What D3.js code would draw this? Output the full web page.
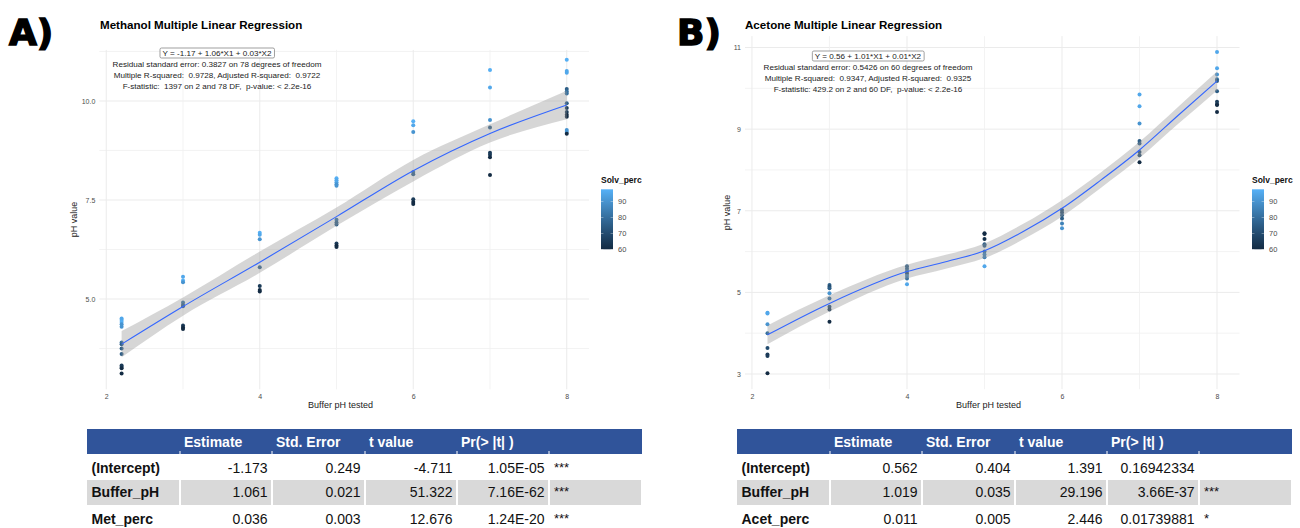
<!DOCTYPE html>
<html>
<head>
<meta charset="utf-8">
<script src="https://d3js.org/d3.v7.min.js"></script>
<style>
  body { margin: 0; background: #fff; }
  text { font-family: "Liberation Sans", Arial, Helvetica, sans-serif; }
</style>
</head>
<body>
<div id="chart"></div>
<script>
// ---- data ----
// Methanol panel (A)
const metBuffer = [2.2,2.2,2.2,2.2,2.2,2.2,2.2,2.2,2.2,2.2,2.2,2.2,2.2,
  3,3,3,3,3,3,3,3,3,
  4,4,4,4,4,4,4,
  5,5,5,5,5,5,5,5,5,5,5,
  6,6,6,6,6,6,6,6,
  7,7,7,7,7,7,7,7,
  8,8,8,8,8,8,8,8,8,8,8,8,8,8];
const metPH = [4.51,4.47,4.42,4.36,4.30,3.90,3.86,3.75,3.61,3.32,3.28,3.25,3.12,
  5.56,5.47,5.42,4.91,4.85,4.82,4.33,4.28,4.24,
  6.67,6.62,6.51,5.80,5.33,5.23,5.19,
  8.05,8.00,7.95,7.90,7.86,7.00,6.93,6.88,6.40,6.35,6.31,
  9.49,9.39,9.22,8.21,8.15,7.52,7.45,7.40,
  10.78,10.34,9.52,9.33,8.69,8.64,8.58,8.13,
  11.04,10.76,10.71,10.30,10.24,10.19,9.94,9.82,9.72,9.65,9.60,9.27,9.22,9.17];
const metPerc = [95,95,97,90,90,80,75,75,75,65,65,60,60,
  95,97,90,80,75,75,65,60,60,
  97,95,90,75,65,60,60,
  97,95,95,90,90,80,75,75,65,60,60,
  97,95,90,80,75,65,60,60,
  97,95,90,75,65,65,60,60,
  97,95,95,75,80,80,75,65,65,60,60,90,90,60];
const metSmoothX = [2.2, 3, 4, 5, 6, 7, 8];
const metSmoothY = [3.86, 4.81, 5.93, 7.08, 8.24, 9.18, 9.90];
const metSmoothSE = [0.33, 0.23, 0.27, 0.23, 0.27, 0.23, 0.36];
const metNote = ["Y = -1.17 + 1.06*X1 + 0.03*X2",
  "Residual standard error: 0.3827 on 78 degrees of freedom",
  "Multiple R-squared:  0.9728, Adjusted R-squared:  0.9722",
  "F-statistic:  1397 on 2 and 78 DF,  p-value: < 2.2e-16"];

// Acetone panel (B)
const acetBuffer = [2.2,2.2,2.2,2.2,2.2,2.2,2.2,2.2,
  3,3,3,3,3,3,3,3,
  4,4,4,4,4,4,4,
  5,5,5,5,5,5,5,5,5,
  6,6,6,6,6,6,
  7,7,7,7,7,7,7,7,
  8,8,8,8,8,8,8,8,8,8];
const acetPH = [4.50,4.48,4.22,4.00,3.64,3.48,3.44,3.02,
  5.18,5.14,5.10,4.98,4.85,4.65,4.58,4.28,
  5.64,5.58,5.52,5.46,5.40,5.34,5.20,
  6.45,6.43,6.31,6.18,6.14,6.00,5.93,5.86,5.64,
  7.02,6.96,6.89,6.81,6.69,6.57,
  9.85,9.56,9.14,8.71,8.65,8.44,8.36,8.19,
  10.89,10.49,10.34,10.22,10.18,9.93,9.67,9.61,9.59,9.42];
const acetPerc = [95,95,90,80,70,65,65,60,
  75,70,75,90,80,70,65,60,
  75,75,80,70,85,80,95,
  60,60,62,75,75,80,85,85,95,
  70,70,75,75,85,90,
  95,95,90,75,75,70,70,60,
  95,95,90,80,75,75,65,65,60,60];
const acetSmoothX = [2.2, 3, 4, 4.5, 5, 5.5, 6, 6.5, 7, 7.5, 8];
const acetSmoothY = [3.96, 4.73, 5.51, 5.75, 6.02, 6.49, 7.06, 7.75, 8.49, 9.34, 10.18];
const acetSmoothSE = [0.23, 0.2, 0.17, 0.17, 0.18, 0.19, 0.2, 0.19, 0.2, 0.21, 0.23];
const acetNote = ["Y = 0.56 + 1.01*X1 + 0.01*X2",
  "Residual standard error: 0.5426 on 60 degrees of freedom",
  "Multiple R-squared:  0.9347, Adjusted R-squared:  0.9325",
  "F-statistic: 429.2 on 2 and 60 DF,  p-value: < 2.2e-16"];

// axis ticks and legend
const xTicks = [2, 4, 6, 8];
const metYTicks = [5.0, 7.5, 10.0];
const acetYTicks = [3, 5, 7, 9, 11];
const legendTicks = [60, 70, 80, 90];

// coefficient tables
const colHeaders = ["Estimate", "Std. Error", "t value", "Pr(> |t| )"];
const metRows = ["(Intercept)", "Buffer_pH", "Met_perc"];
const metEstimate = ["-1.173", "1.061", "0.036"];
const metStdErr = ["0.249", "0.021", "0.003"];
const metTValue = ["-4.711", "51.322", "12.676"];
const metPr = ["1.05E-05", "7.16E-62", "1.24E-20"];
const metSig = ["***", "***", "***"];
const acetRows = ["(Intercept)", "Buffer_pH", "Acet_perc"];
const acetEstimate = ["0.562", "1.019", "0.011"];
const acetStdErr = ["0.404", "0.035", "0.005"];
const acetTValue = ["1.391", "29.196", "2.446"];
const acetPr = ["0.16942334", "3.66E-37", "0.01739881"];
const acetSig = ["", "***", "*"];

// ---- drawing ----
const svg = d3.select("#chart").append("svg")
  .attr("width", 1300).attr("height", 528);
svg.append("rect").attr("width", 1300).attr("height", 528).attr("fill", "#fff");

const color = d3.scaleLinear().domain([60, 97.5])
  .range(["#132B43", "#56B1F7"]).interpolate(d3.interpolateLab);

const defs = svg.append("defs");
const grad = defs.append("linearGradient").attr("id", "solvGrad")
  .attr("x1", 0).attr("y1", 1).attr("x2", 0).attr("y2", 0);
d3.range(0, 1.0001, 0.1).forEach(t => {
  grad.append("stop").attr("offset", t).attr("stop-color", color(60 + t * 37.5));
});

function drawPanel(p) {
  const g = svg.append("g");
  const x = d3.scaleLinear().domain([1.71, 8.29]).range(p.xRange);
  const y = d3.scaleLinear().domain(p.yDomain).range(p.yRange);
  const left = x(1.91);

  // grid
  const minorX = [3, 5, 7];
  const grid = g.append("g");
  grid.selectAll(".hmin").data(p.yMinor).enter().append("line")
    .attr("x1", left).attr("x2", p.xRange[1])
    .attr("y1", d => y(d)).attr("y2", d => y(d))
    .attr("stroke", "#f0f0f0").attr("stroke-width", 0.8);
  grid.selectAll(".hmaj").data(p.yTicks).enter().append("line")
    .attr("x1", left).attr("x2", p.xRange[1])
    .attr("y1", d => y(d)).attr("y2", d => y(d))
    .attr("stroke", "#ebebeb").attr("stroke-width", 1);
  grid.selectAll(".vmin").data(minorX).enter().append("line")
    .attr("x1", d => x(d)).attr("x2", d => x(d))
    .attr("y1", p.yRange[1]).attr("y2", p.yRange[0])
    .attr("stroke", "#f0f0f0").attr("stroke-width", 0.8);
  grid.selectAll(".vmaj").data(xTicks).enter().append("line")
    .attr("x1", d => x(d)).attr("x2", d => x(d))
    .attr("y1", p.yRange[1]).attr("y2", p.yRange[0])
    .attr("stroke", "#ebebeb").attr("stroke-width", 1);

  // axes (labels only, theme_minimal)
  const xAxis = g.append("g").attr("transform", `translate(0,${p.yRange[0] + 2})`)
    .call(d3.axisBottom(x).tickValues(xTicks).tickSize(0).tickFormat(d3.format("d")));
  const yAxis = g.append("g").attr("transform", `translate(${left - 1},0)`)
    .call(d3.axisLeft(y).tickValues(p.yTicks).tickSize(0).tickFormat(p.yFormat));
  [xAxis, yAxis].forEach(a => {
    a.select(".domain").remove();
    a.selectAll("text").attr("fill", "#4d4d4d").style("font-size", "7px")
      .style("font-family", "Liberation Sans, Arial, sans-serif");
  });

  // points
  const pts = p.xs.map((v, i) => ({x: v, y: p.ys[i], c: p.perc[i]}));
  g.selectAll("circle").data(pts).enter().append("circle")
    .attr("cx", d => x(d.x)).attr("cy", d => y(d.y)).attr("r", 2)
    .attr("fill", d => color(d.c));

  // smoother with confidence band
  const sm = p.sx.map((v, i) => ({x: v, y: p.sy[i], se: p.se[i]}));
  g.append("path").datum(sm)
    .attr("d", d3.area().curve(d3.curveMonotoneX)
      .x(d => x(d.x)).y0(d => y(d.y - d.se)).y1(d => y(d.y + d.se)))
    .attr("fill", "#999999").attr("fill-opacity", 0.4);
  g.append("path").datum(sm)
    .attr("d", d3.line().curve(d3.curveMonotoneX).x(d => x(d.x)).y(d => y(d.y)))
    .attr("fill", "none").attr("stroke", "#3366FF").attr("stroke-width", 1.1);

  // titles
  g.append("text").attr("x", p.titleX).attr("y", 29).text(p.title)
    .style("font-size", "11.6px").style("font-weight", "bold").attr("fill", "#000");
  g.append("text").attr("x", (p.xRange[0] + p.xRange[1]) / 2 + 4).attr("y", 408)
    .attr("text-anchor", "middle").text("Buffer pH tested")
    .style("font-size", "9px").attr("fill", "#222");
  g.append("text").attr("transform", `translate(${p.yLabX},${(p.yRange[0] + p.yRange[1]) / 2}) rotate(-90)`)
    .attr("text-anchor", "middle").text("pH value")
    .style("font-size", "9px").attr("fill", "#222");

  // panel letter
  g.append("text").attr("x", p.letterX).attr("y", 45).text(p.letter)
    .style("font-size", "36px").style("font-weight", "900")
    .style("font-family", "DejaVu Sans, sans-serif")
    .attr("stroke", "#000").attr("stroke-width", 1.5);

  // regression note
  const nb = g.append("g");
  const box = nb.append("text").attr("x", p.noteX).attr("y", p.noteY)
    .attr("text-anchor", "middle").text(p.note[0])
    .style("font-size", "8.1px").style("white-space", "pre").attr("fill", "#222");
  const bb = box.node().getBBox();
  nb.insert("rect", "text").attr("x", bb.x - 2.5).attr("y", bb.y - 0.5)
    .attr("width", bb.width + 5).attr("height", bb.height + 1)
    .attr("rx", 1.5).attr("fill", "#fff").attr("stroke", "#777").attr("stroke-width", 0.7);
  p.note.slice(1).forEach((t, i) => {
    nb.append("text").attr("x", p.noteX).attr("y", p.noteY + 11.3 * (i + 1))
      .attr("text-anchor", "middle").text(t)
      .style("font-size", "8.1px").style("white-space", "pre").attr("fill", "#222");
  });

  // colour legend
  const lg = g.append("g").attr("transform", `translate(${p.legendX},0)`);
  lg.append("text").attr("x", 0).attr("y", 183).text("Solv_perc")
    .style("font-size", "8.5px").style("font-weight", "bold").attr("fill", "#111");
  const ly = d3.scaleLinear().domain([60, 97.5]).range([249.3, 189.3]);
  lg.append("rect").attr("x", 0).attr("y", 189.3).attr("width", 12).attr("height", 60)
    .attr("fill", "url(#solvGrad)");
  lg.selectAll(".lt").data(legendTicks).enter().append("g").each(function (d) {
    const s = d3.select(this);
    s.append("line").attr("x1", 0).attr("x2", 2.4).attr("y1", ly(d)).attr("y2", ly(d))
      .attr("stroke", "#fff").attr("stroke-width", 0.6).attr("opacity", 0.7);
    s.append("line").attr("x1", 9.6).attr("x2", 12).attr("y1", ly(d)).attr("y2", ly(d))
      .attr("stroke", "#fff").attr("stroke-width", 0.6).attr("opacity", 0.7);
    s.append("text").attr("x", 17).attr("y", ly(d) + 2.8).text(d)
      .style("font-size", "7.5px").attr("fill", "#4d4d4d");
  });
}

drawPanel({
  xRange: [84, 589], yDomain: [2.72, 11.29], yRange: [389.3, 49.9],
  yTicks: metYTicks, yMinor: [3.75, 6.25, 8.75, 11.25], yFormat: d3.format(".1f"),
  xs: metBuffer, ys: metPH, perc: metPerc,
  sx: metSmoothX, sy: metSmoothY, se: metSmoothSE,
  title: "Methanol Multiple Linear Regression", titleX: 100, yLabX: 77,
  letter: "A)", letterX: 9, note: metNote, noteX: 217, noteY: 55.5, legendX: 601
});
drawPanel({
  xRange: [729.5, 1239.5], yDomain: [2.63, 11.28], yRange: [389.1, 36.1],
  yTicks: acetYTicks, yMinor: [4, 6, 8, 10], yFormat: d3.format("d"),
  xs: acetBuffer, ys: acetPH, perc: acetPerc,
  sx: acetSmoothX, sy: acetSmoothY, se: acetSmoothSE,
  title: "Acetone Multiple Linear Regression", titleX: 745, yLabX: 730,
  letter: "B)", letterX: 677, note: acetNote, noteX: 868, noteY: 58.5, legendX: 1252
});

// ---- coefficient tables ----
function drawTable(left, rows, cols) {
  const t = svg.append("g").attr("transform", `translate(${left},0)`);
  const edges = [0, 93, 185, 278, 370, 462, 555];
  const x = d3.scaleOrdinal().domain(d3.range(7)).range(edges);
  const rowTop = [454, 480, 505];
  const rowBase = [473, 497, 524];
  t.append("rect").attr("x", 0).attr("y", 429).attr("width", 555).attr("height", 25)
    .attr("fill", "#30549a");
  edges.slice(1, 6).forEach(e => {
    t.append("line").attr("x1", e).attr("x2", e).attr("y1", 451).attr("y2", 454)
      .attr("stroke", "#fff").attr("stroke-width", 1);
  });
  colHeaders.forEach((h, i) => {
    t.append("text").attr("x", x(i + 1) + 4).attr("y", 447).text(h)
      .style("font-size", "14px").style("font-weight", "bold").attr("fill", "#fff");
  });
  // shaded middle row
  d3.range(6).forEach(i => {
    t.append("rect").attr("x", x(i) + (i ? 1 : 0)).attr("y", rowTop[1])
      .attr("width", x(i + 1) - x(i) - (i ? 2 : 1)).attr("height", 25)
      .attr("fill", "#d9d9d9");
  });
  rows.forEach((r, j) => {
    t.append("text").attr("x", 4.5).attr("y", rowBase[j]).text(r)
      .style("font-size", "14px").style("font-weight", "bold").attr("fill", "#111");
    cols.slice(0, 4).forEach((c, i) => {
      t.append("text").attr("x", x(i + 2) - 4.5).attr("y", rowBase[j])
        .attr("text-anchor", "end").text(c[j])
        .style("font-size", "14px").attr("fill", "#111");
    });
    t.append("text").attr("x", x(5) + 5).attr("y", rowBase[j] - 1).text(cols[4][j])
      .style("font-size", "13px").attr("fill", "#111");
  });
}

drawTable(87, metRows, [metEstimate, metStdErr, metTValue, metPr, metSig]);
drawTable(737, acetRows, [acetEstimate, acetStdErr, acetTValue, acetPr, acetSig]);
</script>
</body>
</html>
